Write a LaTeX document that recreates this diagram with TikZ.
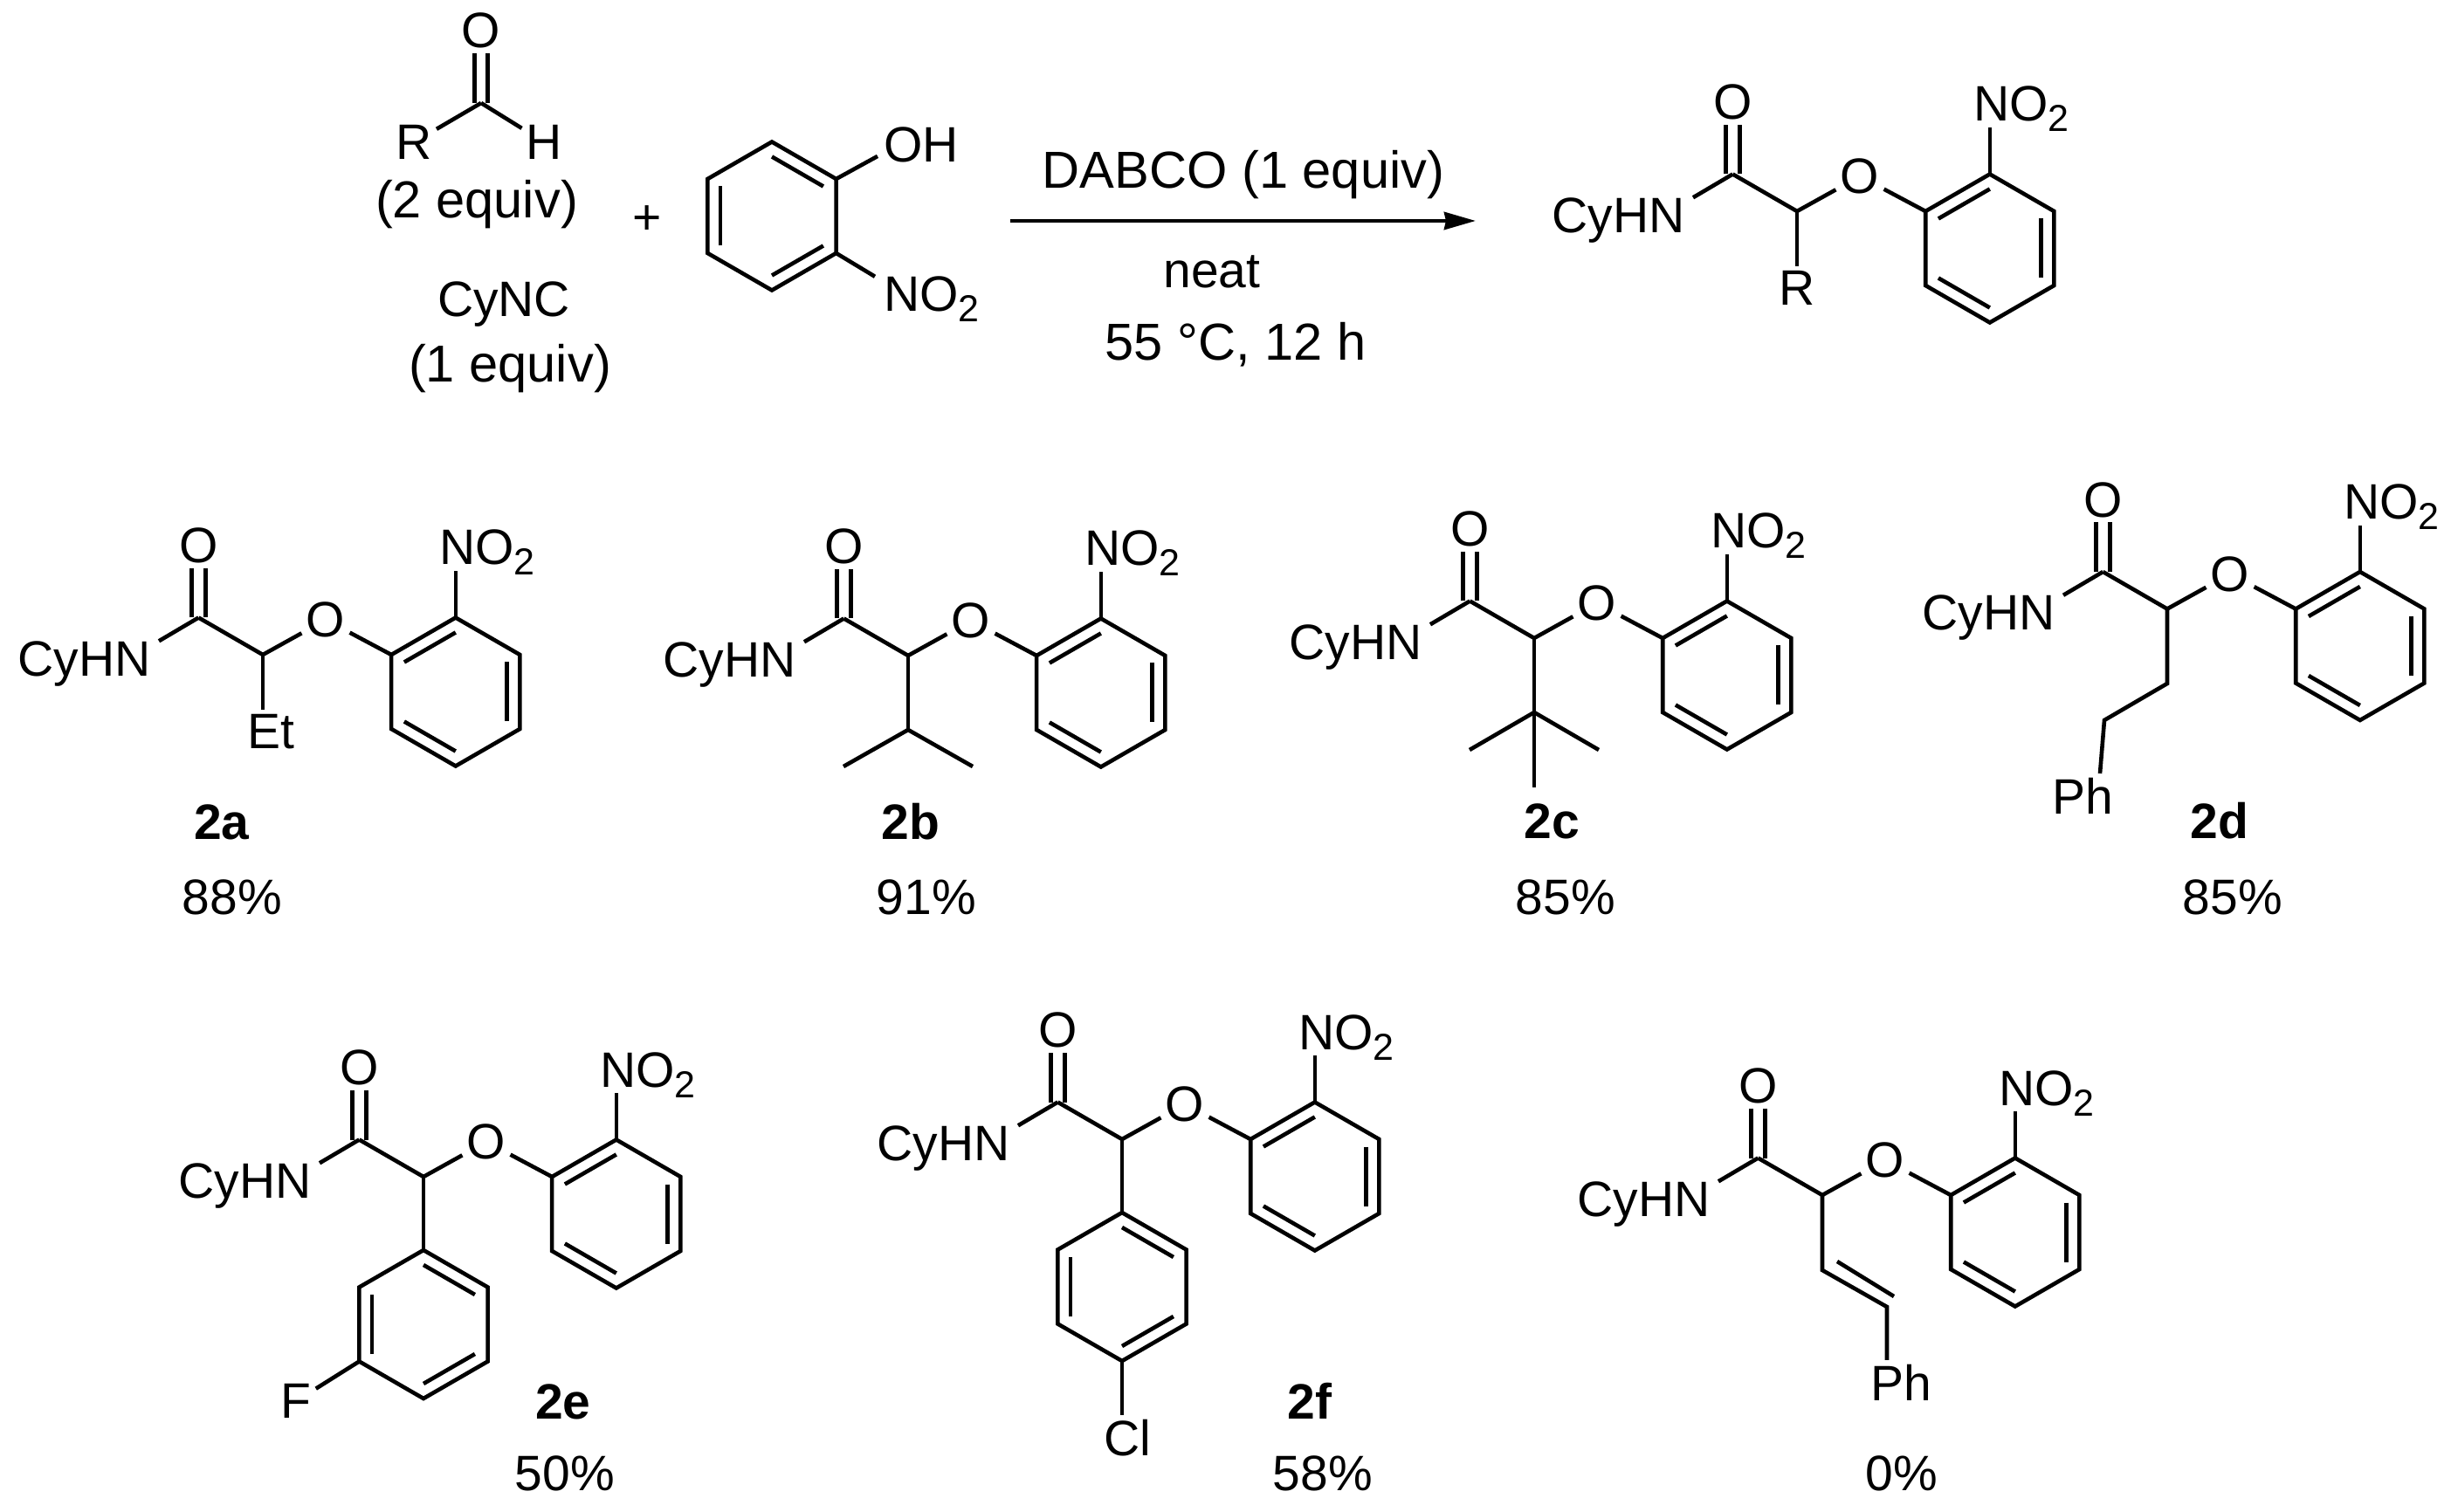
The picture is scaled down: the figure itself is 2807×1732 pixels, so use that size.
\documentclass[tikz,border=0pt]{standalone}
\usepackage{fontspec}
\setmainfont{Liberation Sans}
\usetikzlibrary{calc}
\usetikzlibrary{arrows.meta}

\newcommand{\nitro}{NO\raisebox{-6pt}{\fontsize{21.5}{21.5}\selectfont 2}}
\newcommand{\hexring}[1]{
  \foreach \i/\t in {1/270,2/330,3/30,4/90,5/150,6/210} \coordinate (-v\i) at (\t:85);
  \coordinate (-mid) at (0,0);
  \draw [bond] (-v1) -- (-v2) -- (-v3) -- (-v4) -- (-v5) -- (-v6) -- cycle;
  \foreach \a/\b in {#1} \draw [bond] ($(-v\a)!0.2!(-mid)$) to ($(-v\b)!0.2!(-mid)$);
}
\tikzset{
  atom/.style={inner sep=2.5pt},
  lab/.style={anchor=base, inner sep=0pt},
  wide/.style={font=\fontsize{29.8}{34}\selectfont},
  bond/.style={line width=2.3pt},
  pics/benzene/.style={code={\hexring{#1}}},
  pics/ether/.style={code={
    \coordinate (-c) at (0,0);
    \coordinate (-c1) at (-73.6,-42.5);
    \node [atom] (-o1) at (-73.6,-125) {O};
    \node [atom] (-o2) at (72,-40) {O};
    \node [lab, anchor=base east] (-hn) at (-128,24.5) {CyHN};
    \node [lab, anchor=base west] (-no) at (202,-103) {\nitro};
    \begin{scope}[shift={(220.8,42.5)}]
      \hexring{6/1,2/3,4/5}
    \end{scope}
    \draw [bond] ([xshift=-4pt]-c1) to ([xshift=-4pt]-o1.south);
    \draw [bond] ([xshift=4pt]-c1) to ([xshift=4pt]-o1.south);
    \draw [bond] (-c) to (-c1);
    \draw [bond] (-c1) to ([xshift=4.5pt]-hn.north east);
    \draw [bond] (-c) to (-o2);
    \draw [bond] (-o2) to (-v6);
    \draw [bond] (-v1) to ([xshift=9.4pt,yshift=2.5pt]-no.south west);
  }}
}

\begin{document}
\begin{tikzpicture}[x=0.5pt, y=-0.5pt, font=\fontsize{28.5}{34}\selectfont]
\useasboundingbox (0,0) rectangle (2807,1732);

\coordinate (aldC) at (551,118);
\node [atom] (aldO) at (551,35) {O};
\node [atom] (aldR) at (474,163) {R};
\node [atom] (aldH) at (623.5,163) {H};
\draw [bond] ([xshift=-3.7pt]aldC) to ([xshift=-3.7pt]aldO.south);
\draw [bond] ([xshift=3.7pt]aldC) to ([xshift=3.7pt]aldO.south);
\draw [bond] (aldC) to (aldR);
\draw [bond] (aldC) to (aldH);
\node [lab, wide] (eqA) at (546,250) {(2 equiv)};
\node [lab] (cync) at (577,363) {CyNC};
\node [lab, wide] (eqB) at (584,438) {(1 equiv)};
\node [atom] (plus) at (741,252) {+};

\pic (phen) at (884,247.5) {benzene={1/2,3/4,5/6}};
\node [lab, anchor=base west] (oh) at (1012,186) {OH};
\node [lab, anchor=base west] (phenNO) at (1012,357) {\nitro};
\draw [bond] (phen-v2) to ([xshift=-3.5pt,yshift=4pt]oh.south west);
\draw [bond] (phen-v3) to ([xshift=-5pt]phenNO.north west);

\coordinate (arrA) at (1157,253);
\coordinate (arrB) at (1690,253);
\draw [bond, -{Stealth[length=18pt,width=10pt,inset=1pt]}] (arrA) to (arrB);
\node [lab, wide] (dabco) at (1424,216) {DABCO (1 equiv)};
\node [lab] (neat) at (1388,330) {neat};
\node [lab, wide] (temp) at (1415,413) {55 °C, 12 h};

\pic (prod) at (2058,242) {ether};
\node [atom] (prodR) at (2058,330) {R};
\draw [bond] (prod-c) to (prodR);

\pic (a) at (301,750) {ether};
\node [atom] (aEt) at (310,838) {Et};
\draw [bond] (a-c) to ([xshift=-4.5pt]aEt.north);
\node [lab] (aName) at (254,962) {\textbf{2a}};
\node [lab] (aYield) at (266,1047) {88\%};

\pic (b) at (1040,751) {ether};
\coordinate (bC) at (1040,836);
\coordinate (bL) at (966,878);
\coordinate (bR) at (1114,878);
\draw [bond] (b-c) to (bC);
\draw [bond] (bL) -- (bC) -- (bR);
\node [lab] (bName) at (1043,962) {\textbf{2b}};
\node [lab] (bYield) at (1061,1047) {91\%};

\pic (c) at (1757,731) {ether};
\coordinate (cC) at (1757,816);
\coordinate (cL) at (1683,859);
\coordinate (cR) at (1831,859);
\coordinate (cD) at (1757,902);
\draw [bond] (c-c) to (cD);
\draw [bond] (cL) -- (cC) -- (cR);
\node [lab] (cName) at (1777,961) {\textbf{2c}};
\node [lab] (cYield) at (1793,1047) {85\%};

\pic (d) at (2482,697.5) {ether};
\coordinate (dA) at (2482,783);
\coordinate (dB) at (2410,825);
\node [atom] (dPh) at (2385,912) {Ph};
\draw [bond] (d-c) -- (dA) -- (dB) -- ([xshift=10pt]dPh.north);
\node [lab] (dName) at (2542,961) {\textbf{2d}};
\node [lab] (dYield) at (2557,1047) {85\%};

\pic (e) at (485,1348) {ether};
\pic (eAr) at (485,1517) {benzene={1/2,3/4,5/6}};
\node [atom] (eF) at (339,1605) {F};
\draw [bond] (e-c) to (eAr-v1);
\draw [bond] (eAr-v5) to (eF);
\node [lab] (eName) at (645,1625) {\textbf{2e}};
\node [lab] (eYield) at (647,1707) {50\%};

\pic (f) at (1285,1305) {ether};
\pic (fAr) at (1285,1474) {benzene={1/2,3/4,5/6}};
\node [atom] (fCl) at (1291,1647) {Cl};
\draw [bond] (f-c) to (fAr-v1);
\draw [bond] (fAr-v4) to ([xshift=-3pt]fCl.north);
\node [lab] (fName) at (1500,1625) {\textbf{2f}};
\node [lab] (fYield) at (1515,1707) {58\%};

\pic (g) at (2087,1369) {ether};
\coordinate (gA) at (2087,1455);
\coordinate (gB) at (2161,1497);
\coordinate (gAi) at (2104,1445);
\coordinate (gBi) at (2169,1485);
\node [atom] (gPh) at (2177,1584) {Ph};
\draw [bond] (g-c) -- (gA) -- (gB) -- ([xshift=-8pt]gPh.north);
\draw [bond] (gAi) to (gBi);
\node [lab] (gYield) at (2178,1707) {0\%};
\end{tikzpicture}
\end{document}
